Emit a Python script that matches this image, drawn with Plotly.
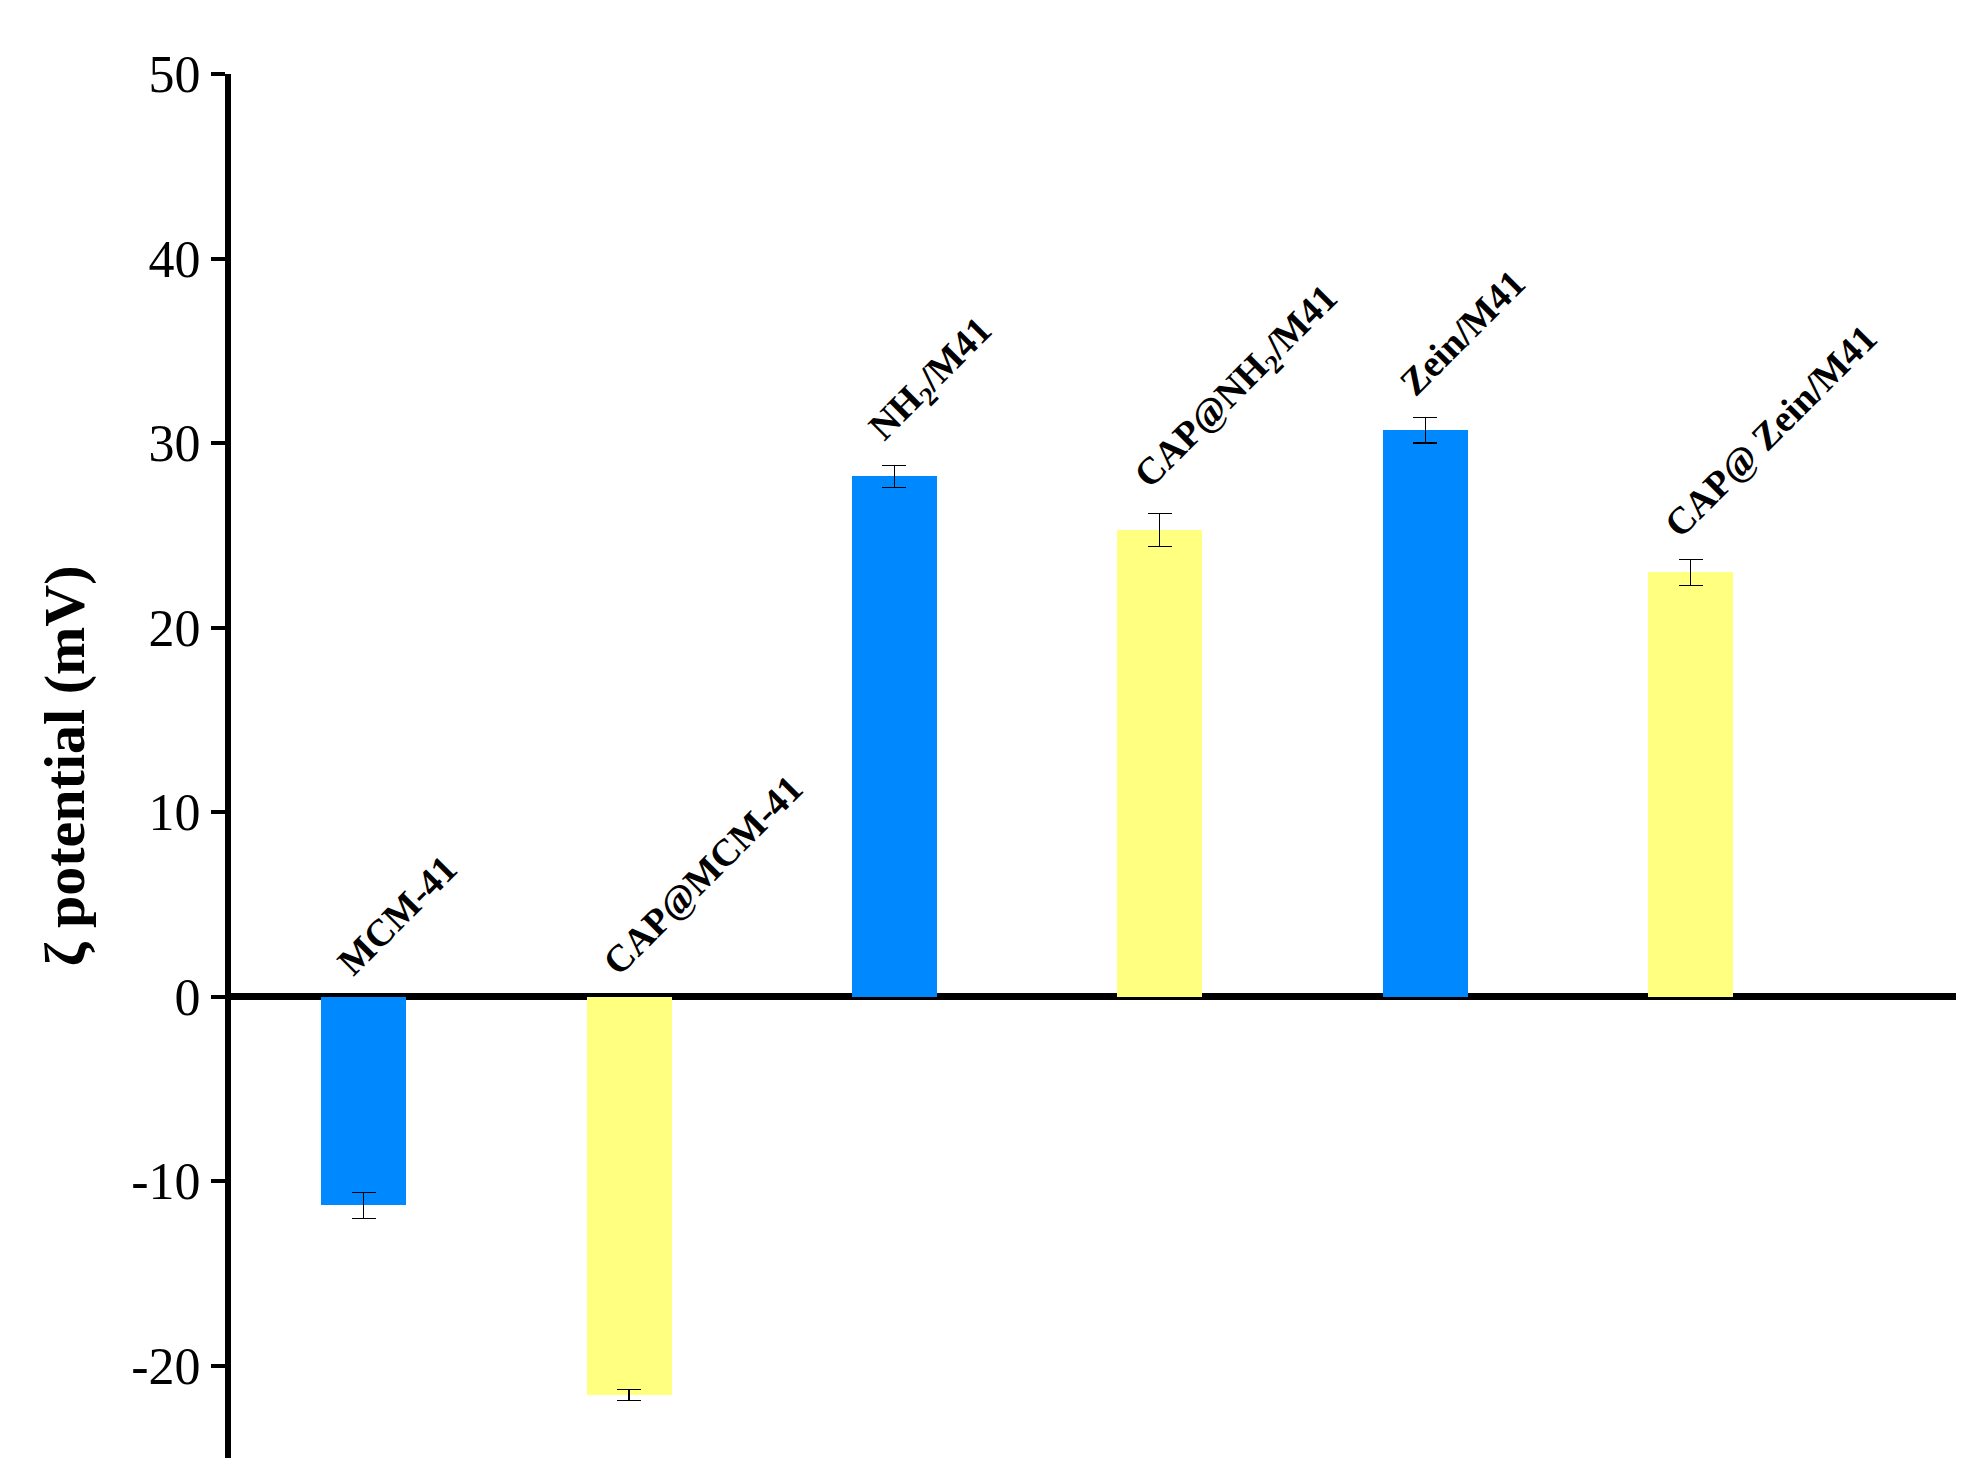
import plotly.graph_objects as go

samples = ["MCM-41", "CAP@MCM-41", "NH<sub>2</sub>/M41", "CAP@NH<sub>2</sub>/M41", "Zein/M41", "CAP@ Zein/M41"]
zeta = [-11.3, -21.6, 28.2, 25.3, 30.7, 23.0]
zeta_err = [0.7, 0.3, 0.6, 0.9, 0.7, 0.7]
blue_idx = [0, 2, 4]
yellow_idx = [1, 3, 5]
y_ticks = [-20, -10, 0, 10, 20, 30, 40, 50]
y_ticktext = ["-20", "-10", "0", "10", "20", "30", "40", "50"]

fig = go.Figure()
for idx, color in [(blue_idx, "#0088FF"), (yellow_idx, "#FFFF80")]:
    fig.add_trace(go.Bar(
        x=idx, y=[zeta[i] for i in idx], width=0.32,
        marker=dict(color=color, line=dict(width=0)),
        error_y=dict(type="data", array=[zeta_err[i] for i in idx],
                     color="black", thickness=1.2, width=12),
        showlegend=False,
    ))

# rotated sample labels sitting just above each bar (or above zero for negative bars)
for i, name in enumerate(samples):
    base = max(zeta[i] + zeta_err[i], 0) + 0.6
    fig.add_annotation(
        x=i - 0.14, y=base, text=f"<b>{name}</b>", textangle=-45,
        showarrow=False, xanchor="left", yanchor="bottom",
        font=dict(family="Liberation Serif", size=38, color="black"),
    )

fig.update_layout(
    width=1975, height=1484, plot_bgcolor="white", paper_bgcolor="white",
    margin=dict(l=223, r=27, t=66, b=34), bargap=0,
    font=dict(family="Liberation Serif", color="black"),
    xaxis=dict(range=[-0.5, 6.0], visible=False),
    yaxis=dict(
        range=[-25, 50], tickvals=y_ticks, ticktext=y_ticktext,
        showgrid=False, showline=True, linewidth=6, linecolor="black",
        ticks="outside", ticklen=14, tickwidth=4, tickcolor="black",
        tickfont=dict(size=52), zeroline=True, zerolinewidth=7, zerolinecolor="black",
        title=dict(text="<b>ζ potential (mV)</b>", font=dict(size=58), standoff=30),
    ),
)

fig.write_html("out.html")
